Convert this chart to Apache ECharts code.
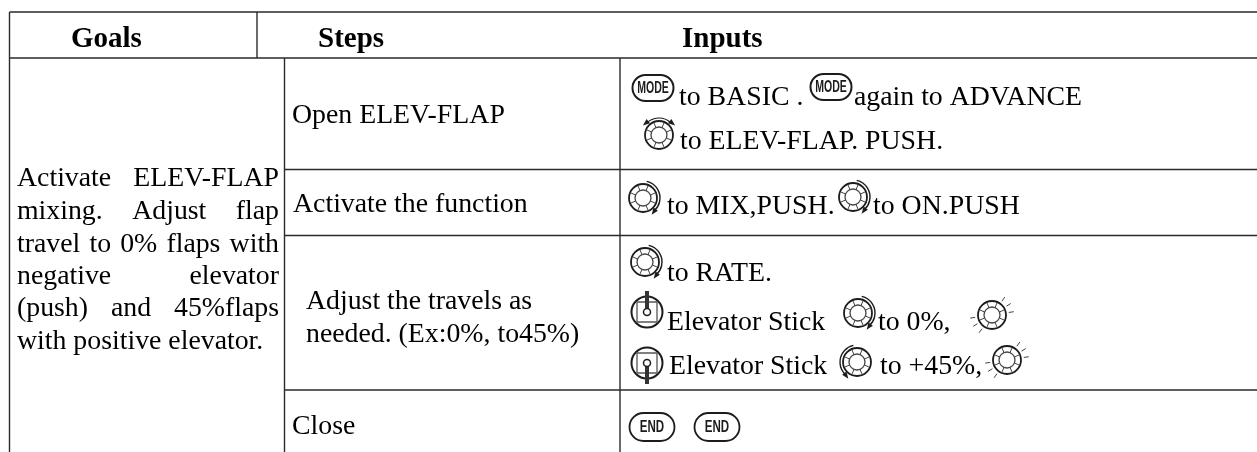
<!DOCTYPE html>
<html>
<head>
<meta charset="utf-8">
<title>ELEV-FLAP</title>
<style>
  html, body { margin: 0; padding: 0; background: #fff; }
  #main { width: 1257px; height: 452px; }
</style>
<script src="https://cdn.jsdelivr.net/npm/echarts@6/dist/echarts.min.js"></script>
</head>
<body>
<div id="main"></div>
<script>
// table content
var headerLabels = ['Goals', 'Steps', 'Inputs'];
var goalLines = [
  ['Activate', 'ELEV-FLAP'],
  ['mixing.', 'Adjust', 'flap'],
  ['travel', 'to', '0%', 'flaps', 'with'],
  ['negative', 'elevator'],
  ['(push)', 'and', '45%flaps'],
  ['with', 'positive', 'elevator.']
];
var stepLabels = ['Open ELEV-FLAP', 'Activate the function', 'Adjust the travels as', 'needed. (Ex:0%, to45%)', 'Close'];
var inputLabels = ['to BASIC .', 'again to ADVANCE', 'to ELEV-FLAP. PUSH.', 'to MIX,PUSH.', 'to ON.PUSH',
  'to RATE.', 'Elevator Stick', 'to 0%,', 'Elevator Stick', 'to +45%,'];
var modeLabel = 'MODE';
var endLabel = 'END';

var SERIF = '"Liberation Serif", "Times New Roman", serif';
var SANS = '"Liberation Sans", sans-serif';
var BODY_SIZE = 27.8;
var HEAD_SIZE = 29;
var INK = '#1c1c1c';

var els = [];
var measureCtx = document.createElement('canvas').getContext('2d');

function rule(x1, y1, x2, y2) {
  els.push({ type: 'line', silent: true, shape: { x1: x1, y1: y1, x2: x2, y2: y2 },
    style: { stroke: '#2a2a2a', lineWidth: 1.4 } });
}

// y is the baseline
function label(text, x, y, opts) {
  opts = opts || {};
  var size = opts.size || BODY_SIZE;
  els.push({ type: 'text', silent: true, style: {
    text: text, x: x, y: y - size * 0.29,
    fontFamily: opts.family || SERIF, fontSize: size, fontWeight: opts.weight || 'normal',
    fill: '#000', align: opts.align || 'left', verticalAlign: 'middle'
  } });
}

// spread the words of one line over the cell width
function justified(words, left, right, y) {
  measureCtx.font = BODY_SIZE + 'px ' + SERIF;
  var total = 0;
  words.forEach(function (w) { total += measureCtx.measureText(w).width; });
  var gap = (right - left - total) / (words.length - 1);
  var x = left;
  words.forEach(function (w) {
    label(w, x, y);
    x += measureCtx.measureText(w).width + gap;
  });
}

// no narrow face installed, so squeeze the button text
function pill(cx, cy, w, h, text, size, squeeze, stroke) {
  els.push({ type: 'rect', silent: true,
    shape: { x: cx - w / 2, y: cy - h / 2, width: w, height: h, r: h / 2 },
    style: { fill: '#fff', stroke: INK, lineWidth: stroke } });
  els.push({ type: 'text', silent: true, x: cx, y: cy, scaleX: squeeze, style: {
    text: text, x: 0, y: 0, fontFamily: SANS, fontSize: size, fontWeight: 'bold',
    fill: INK, align: 'center', verticalAlign: 'middle' } });
}

function arrowHead(x, y, angle) {
  var s = 4;
  els.push({ type: 'polygon', silent: true, shape: { points: [
    [x + Math.cos(angle) * s, y + Math.sin(angle) * s],
    [x + Math.cos(angle + 2.4) * s, y + Math.sin(angle + 2.4) * s],
    [x + Math.cos(angle - 2.4) * s, y + Math.sin(angle - 2.4) * s]
  ] }, style: { fill: INK } });
}

function arc(cx, cy, r, a0, a1, width) {
  els.push({ type: 'arc', silent: true,
    shape: { cx: cx, cy: cy, r: r, startAngle: a0, endAngle: a1, clockwise: true },
    style: { fill: 'none', stroke: INK, lineWidth: width || 1.2 } });
}

// mode: top, cw, ccw, rays
function dial(cx, cy, mode) {
  var R = 14;
  els.push({ type: 'circle', silent: true, shape: { cx: cx, cy: cy, r: R },
    style: { fill: '#fff', stroke: INK, lineWidth: 1.8 } });
  els.push({ type: 'circle', silent: true, shape: { cx: cx, cy: cy, r: 8 },
    style: { fill: '#fff', stroke: '#444', lineWidth: 1.3 } });
  for (var i = 0; i < 8; i++) {
    var a = Math.PI / 8 + i * Math.PI / 4;
    els.push({ type: 'line', silent: true, shape: {
      x1: cx + Math.cos(a) * 8, y1: cy + Math.sin(a) * 8,
      x2: cx + Math.cos(a) * 13, y2: cy + Math.sin(a) * 13
    }, style: { stroke: '#444', lineWidth: 1 } });
  }
  if (mode === 'top') {
    arc(cx, cy, 17, -2.4, -0.75);
    arrowHead(cx - 13, cy - 12, Math.PI * 0.78);
    arrowHead(cx + 13, cy - 12, Math.PI * 0.22);
  } else if (mode === 'cw') {
    arc(cx, cy, 17, -1.35, 0.85, 1.4);
    arrowHead(cx + 11, cy + 13.5, Math.PI * 0.7);
  } else if (mode === 'ccw') {
    arc(cx, cy, 17, 2.3, 4.5, 1.4);
    arrowHead(cx - 11, cy + 13.5, Math.PI * 0.3);
  } else if (mode === 'rays') {
    [-0.95, -0.55, -0.15, 2.2, 2.6, 3.0].forEach(function (a) {
      els.push({ type: 'line', silent: true, shape: {
        x1: cx + Math.cos(a) * 17, y1: cy + Math.sin(a) * 17,
        x2: cx + Math.cos(a) * 22, y2: cy + Math.sin(a) * 22
      }, style: { stroke: '#444', lineWidth: 1 } });
    });
  }
}

// dir: -1 stick pushed up, 1 stick pulled down
function stick(cx, cy, dir) {
  els.push({ type: 'circle', silent: true, shape: { cx: cx, cy: cy, r: 15.5 },
    style: { fill: '#fff', stroke: INK, lineWidth: 2 } });
  els.push({ type: 'rect', silent: true, shape: { x: cx - 10, y: cy - 10, width: 20, height: 20 },
    style: { fill: '#fff', stroke: '#555', lineWidth: 1.3 } });
  els.push({ type: 'line', silent: true, shape: { x1: cx, y1: cy, x2: cx, y2: cy + dir * 21 },
    style: { stroke: '#333', lineWidth: 4 } });
  els.push({ type: 'circle', silent: true, shape: { cx: cx, cy: cy, r: 3.5 },
    style: { fill: '#fff', stroke: INK, lineWidth: 1.5 } });
}

// frame
rule(9.5, 12, 1257, 12);
rule(9, 58, 1257, 58);
rule(284, 169.5, 1257, 169.5);
rule(284, 235.5, 1257, 235.5);
rule(284, 390, 1257, 390);
rule(9.5, 12, 9.5, 452);
rule(257, 12, 257, 58);
rule(284.5, 58, 284.5, 452);
rule(620, 58, 620, 452);

// headers
label(headerLabels[0], 71, 48, { size: HEAD_SIZE, weight: 'bold' });
label(headerLabels[1], 318, 48, { size: HEAD_SIZE, weight: 'bold' });
label(headerLabels[2], 682, 48, { size: HEAD_SIZE, weight: 'bold' });

// goals column
var goalBaselines = [187, 220, 253, 285, 317];
goalLines.slice(0, 5).forEach(function (words, i) {
  justified(words, 17, 279, goalBaselines[i]);
});
label(goalLines[5].join(' '), 17, 350);

// steps column
label(stepLabels[0], 292, 124);
label(stepLabels[1], 293, 213);
label(stepLabels[2], 306, 310);
label(stepLabels[3], 306, 343);
label(stepLabels[4], 292, 435);

// inputs column
pill(653, 88, 41, 26, modeLabel, 17, 0.62, 2);
label(inputLabels[0], 679, 106);
pill(831, 87, 41, 26, modeLabel, 17, 0.62, 2);
label(inputLabels[1], 854, 106);
dial(659, 135, 'top');
label(inputLabels[2], 680, 150);

dial(643, 198, 'cw');
label(inputLabels[3], 667, 215);
dial(853, 197, 'cw');
label(inputLabels[4], 873, 215);

dial(645, 262, 'cw');
label(inputLabels[5], 667, 282);
stick(647, 312, -1);
label(inputLabels[6], 667, 331);
dial(858, 313, 'cw');
label(inputLabels[7], 878, 331);
dial(992, 315, 'rays');
stick(647, 363, 1);
label(inputLabels[8], 669, 375);
dial(857, 362, 'ccw');
label(inputLabels[9], 880, 375);
dial(1007, 360, 'rays');

pill(652, 427, 45, 28, endLabel, 17, 0.68, 1.8);
pill(717, 427, 45, 28, endLabel, 17, 0.68, 1.8);

var chart = echarts.init(document.getElementById('main'), null, { renderer: 'canvas' });
chart.setOption({
  animation: false,
  backgroundColor: '#fff',
  graphic: { elements: els }
});
</script>
</body>
</html>
